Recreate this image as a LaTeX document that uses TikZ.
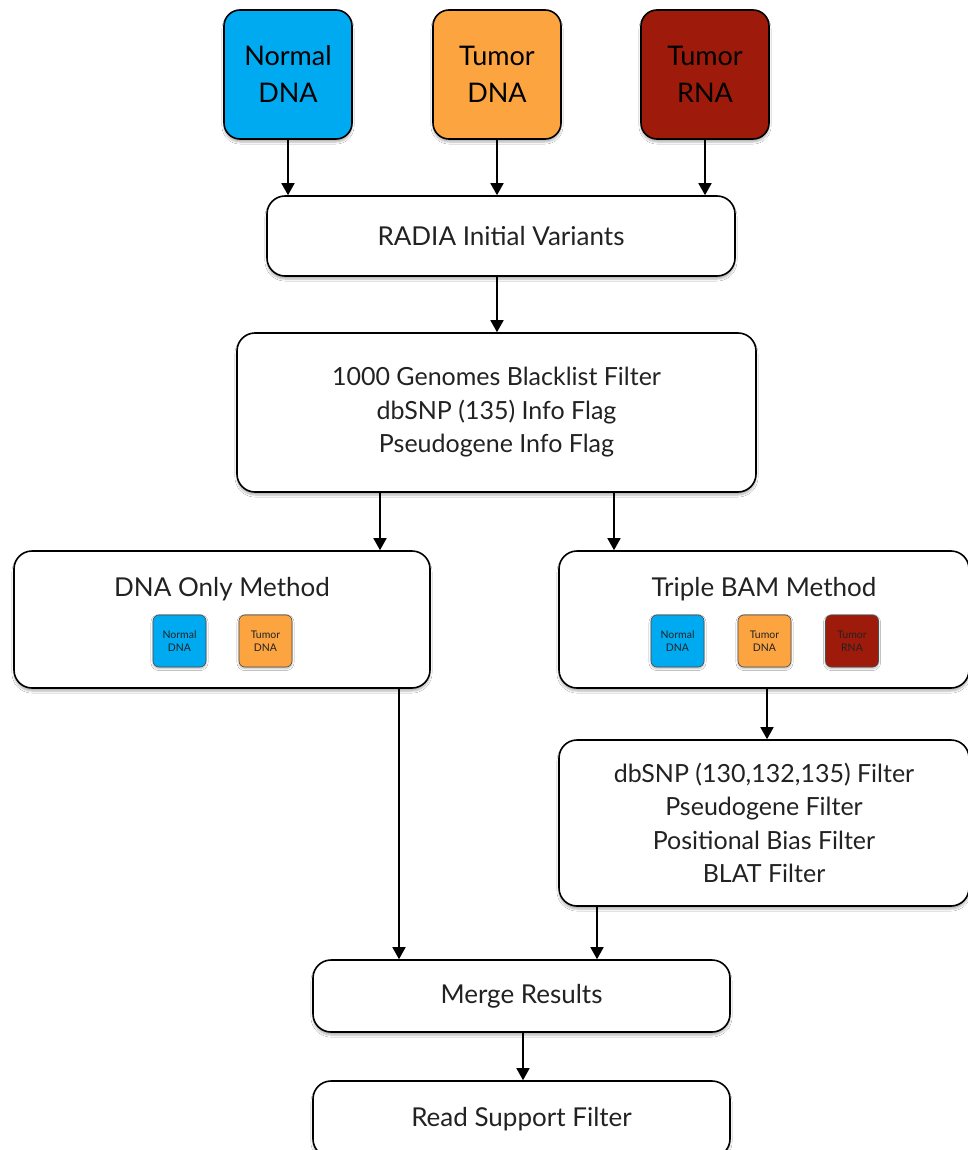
\documentclass[tikz,border=0pt]{standalone}
\usepackage{fontspec}
\setmainfont{Lato}
\usetikzlibrary{arrows.meta,shadows.blur}
\definecolor{nblue}{RGB}{0,170,240}
\definecolor{torange}{RGB}{252,164,64}
\definecolor{tred}{RGB}{158,26,10}
\definecolor{ink}{RGB}{34,34,34}
\tikzset{
  boxbase/.style={draw=black, line width=1.6pt, align=center, text=ink,
    blur shadow={shadow blur steps=6, shadow xshift=0pt, shadow yshift=-3pt, shadow opacity=30}},
  procbox/.style={boxbase, fill=white, rounded corners=18pt, font=\fontsize{26}{33}\selectfont},
  listbox/.style={procbox, font=\fontsize{25}{33.5}\selectfont},
  titletext/.style={font=\fontsize{26}{30}\selectfont, text=ink},
  srcbox/.style={boxbase, rounded corners=16pt, minimum width=128pt, minimum height=129pt,
    text=black, font=\fontsize{27}{37}\selectfont},
  minibox/.style={draw=black!70, line width=0.6pt, rounded corners=6pt, minimum width=53pt,
    minimum height=52pt, align=center, text=ink, font=\fontsize{10.5}{13}\selectfont,
    blur shadow={shadow blur steps=4, shadow xshift=0pt, shadow yshift=-1.5pt, shadow opacity=30}},
  arr/.style={line width=1.6pt, -{Triangle[width=13pt,length=12pt]}}
}
\begin{document}
\begin{tikzpicture}[x=1pt,y=-1pt]
  \fill[white] (0,0) rectangle (968,1150);
  \clip (0,0) rectangle (968,1150);

  % input samples
  \node[srcbox, fill=nblue]   (nd) at (288,74.5) {Normal\\DNA};
  \node[srcbox, fill=torange] (td) at (497,74.5) {Tumor\\DNA};
  \node[srcbox, fill=tred]    (tr) at (705,74.5) {Tumor\\RNA};

  % initial calls and first filters
  \node[procbox, minimum width=468pt, minimum height=80pt] (radia) at (501,236) {RADIA Initial Variants};
  \node[listbox, minimum width=519pt, minimum height=159pt] (filt) at (496.5,412.5)
    {1000 Genomes Blacklist Filter\\dbSNP (135) Info Flag\\Pseudogene Info Flag};

  % the two calling methods
  \node[procbox, minimum width=416pt, minimum height=137pt] (dnaonly) at (222,619.5) {};
  \node[titletext] (dnaonlyt) at (222,589) {DNA Only Method};
  \node[minibox, fill=nblue]   (dn1) at (179.5,641) {Normal\\DNA};
  \node[minibox, fill=torange] (dt1) at (265.5,641) {Tumor\\DNA};

  \node[procbox, minimum width=410pt, minimum height=137pt] (triple) at (764,619.5) {};
  \node[titletext] (triplet) at (764,589) {Triple BAM Method};
  \node[minibox, fill=nblue]   (dn2) at (677.5,641) {Normal\\DNA};
  \node[minibox, fill=torange] (dt2) at (764.5,641) {Tumor\\DNA};
  \node[minibox, fill=tred]    (tr2) at (852,641) {Tumor\\RNA};

  \node[listbox, minimum width=410pt, minimum height=166pt] (filt2) at (764,823)
    {dbSNP (130,132,135) Filter\\Pseudogene Filter\\Positional Bias Filter\\BLAT Filter};

  % final steps
  \node[procbox, minimum width=417pt, minimum height=72pt] (merge) at (521.5,996) {Merge Results};
  \node[procbox, minimum width=417pt, minimum height=76pt] (reads) at (521.5,1119) {Read Support Filter};

  % connectors
  \draw[arr] (nd.south) -- (radia.north -| nd.south);
  \draw[arr] (td.south) -- (radia.north -| td.south);
  \draw[arr] (tr.south) -- (radia.north -| tr.south);
  \draw[arr] (radia.south -| 497,0) -- (filt.north -| 497,0);
  \draw[arr] (filt.south -| 380,0) -- (dnaonly.north -| 380,0);
  \draw[arr] (filt.south -| 614,0) -- (triple.north -| 614,0);
  \draw[arr] (triple.south -| 767,0) -- (filt2.north -| 767,0);
  \draw[arr] (dnaonly.south -| 399,0) -- (merge.north -| 399,0);
  \draw[arr] (filt2.south -| 597,0) -- (merge.north -| 597,0);
  \draw[arr] (merge.south -| 523,0) -- (reads.north -| 523,0);
\end{tikzpicture}
\end{document}
